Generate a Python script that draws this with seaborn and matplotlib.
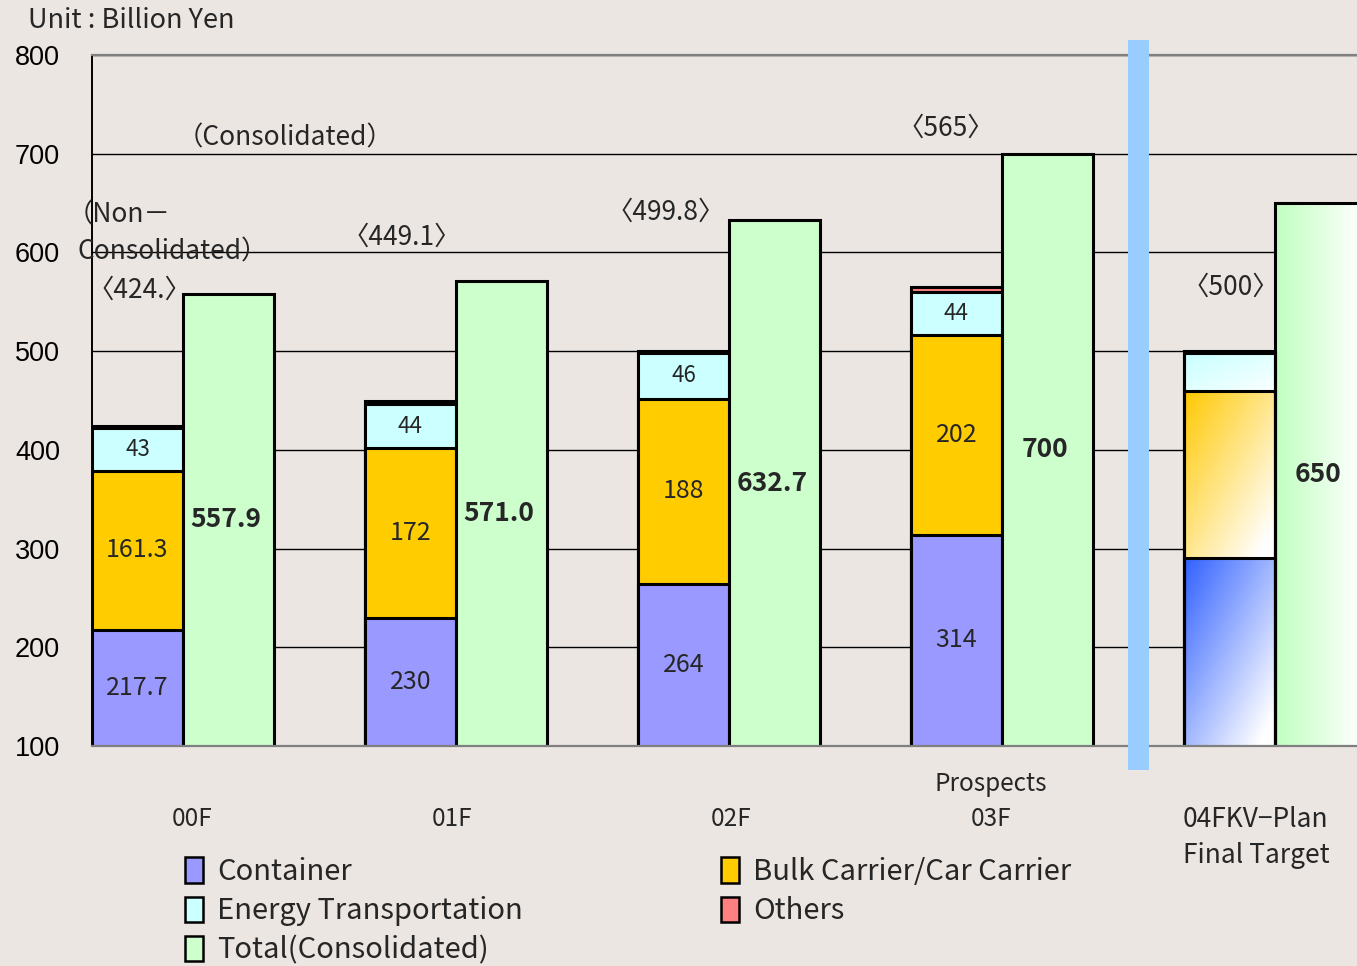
import numpy as np
import pandas as pd
import matplotlib
matplotlib.use("Agg")
import matplotlib.pyplot as plt
from matplotlib.patches import Rectangle, Patch
from matplotlib.colors import to_rgb
import seaborn as sns

# ---- data (Billion Yen) ----
years = ["00F", "01F", "02F", "03F", "04F"]
container = [217.7, 230, 264, 314, 290]
bulk = [161.3, 172, 188, 202, 170]
energy = [43, 44, 46, 44, 38]
others = [2.0, 3.1, 1.8, 5.0, 2.0]
total_consol = [557.9, 571.0, 632.7, 700, 650]

container_lbl = ["217.7", "230", "264", "314", ""]
bulk_lbl = ["161.3", "172", "188", "202", ""]
energy_lbl = ["43", "44", "46", "44", ""]
total_lbl = ["557.9", "571.0", "632.7", "700", "650"]
nonconsol_lbl = ["〈424.〉", "〈449.1〉", "〈499.8〉", "〈565〉", "〈500〉"]
xlabels = ["00F", "01F", "02F", "Prospects\n03F", "04FKV\u2212Plan\nFinal Target"]

c_container = "#9999ff"
c_bulk = "#ffcc00"
c_energy = "#ccffff"
c_others = "#ff8080"
c_total = "#ccffcc"
bg = "#ebe6e2"

sns.set_theme(style="white")
plt.rcParams['font.family'] = ['Noto Sans CJK JP', 'DejaVu Sans']

W, H = 1357, 966
fig = plt.figure(figsize=(W / 100, H / 100), dpi=100, facecolor=bg)
ax = fig.add_axes([92 / W, 1 - 746 / H, 1 - 92 / W, (746 - 55) / H])
ax.set_facecolor(bg)

ymin, ymax = 100, 800
grp = np.arange(len(years))
bw = 1 / 3
stack_x = grp - bw / 2
total_x = grp + bw / 2

cum_c = np.array(container)
cum_b = cum_c + np.array(bulk)
cum_e = cum_b + np.array(energy)
cum_o = cum_e + np.array(others)

df = pd.DataFrame({"sx": stack_x, "tx": total_x, "container": cum_c,
                   "bulk": cum_b, "energy": cum_e, "others": cum_o,
                   "total": total_consol})

last = {}
def draw(xcol, ycol, color, key):
    n0 = len(ax.patches)
    sns.barplot(data=df, x=xcol, y=ycol, native_scale=True, width=bw,
                color=color, saturation=1, edgecolor="black", linewidth=2.2,
                errorbar=None, ax=ax)
    new = ax.patches[n0:]
    last[key] = max(new, key=lambda p: p.get_x())

# stacked by overdrawing cumulative heights, outermost first
draw("sx", "others", c_others, "others")
draw("sx", "energy", c_energy, "energy")
draw("sx", "bulk", c_bulk, "bulk")
draw("sx", "container", c_container, "container")
draw("tx", "total", c_total, "total")

# gradient fills for the 04F target bars
def gradient(patch, c1, lo, hi, diagonal=True, k=1.2):
    n = 200
    X, Y = np.meshgrid(np.linspace(0, 1, n), np.linspace(0, 1, n))
    t = (X + Y) / 2 if diagonal else X
    t = np.clip(t * k, 0, 1)
    c1 = np.array(to_rgb(c1))
    img = c1[None, None, :] * (1 - t[..., None]) + np.ones(3) * t[..., None]
    x0 = patch.get_x()
    w = patch.get_width()
    im = ax.imshow(img, extent=[x0, x0 + w, lo, hi], origin="upper",
                   aspect="auto", zorder=0.9, interpolation="bilinear")
    im.set_clip_path(patch)
    patch.set_facecolor("none")

gradient(last["others"], "#ff8080", cum_e[-1], cum_o[-1])
gradient(last["energy"], "#c8ffff", cum_b[-1], cum_e[-1], k=0.9)
gradient(last["bulk"], "#ffc800", cum_c[-1], cum_b[-1], k=1.1)
gradient(last["container"], "#3060ff", ymin, cum_c[-1], k=1.1)
gradient(last["total"], "#c0ffc0", ymin, total_consol[-1], diagonal=False, k=1.05)

# segment value labels
def mid(lo, hi):
    return (max(lo, ymin) + hi) / 2

for i in range(len(years)):
    ax.text(stack_x[i], mid(0, cum_c[i]), container_lbl[i], ha="center", va="center", fontsize=18)
    ax.text(stack_x[i], mid(cum_c[i], cum_b[i]), bulk_lbl[i], ha="center", va="center", fontsize=18)
    ax.text(stack_x[i], mid(cum_b[i], cum_e[i]), energy_lbl[i], ha="center", va="center", fontsize=16)
    ax.text(total_x[i] - 0.01, mid(0, total_consol[i]), total_lbl[i], ha="center", va="center",
            fontsize=19, fontweight="bold")

# non-consolidated totals
nc_pos = [(-0.161, 562), (0.802, 615), (1.769, 641), (2.795, 726), (3.839, 565)]
for (x, y), s in zip(nc_pos, nonconsol_lbl):
    ax.text(x, y, s, ha="center", va="center", fontsize=19)

ax.text(0.374, 716, "（Consolidated）", ha="center", va="center", fontsize=19)
ax.text(-0.425, 638, "（Non\uff0d", ha="left", va="center", fontsize=19)
ax.text(-0.385, 600, "Consolidated）", ha="left", va="center", fontsize=19)

# axes styling
ax.set_xlim(stack_x[0] - bw / 2, stack_x[0] - bw / 2 + (W - 92) / 273)
ax.set_ylim(ymin, ymax)
ax.set_yticks(np.arange(ymin, ymax + 1, 100))
ax.set_yticklabels([str(v) for v in range(ymin, ymax + 1, 100)],
                   fontsize=19.5, family=["Liberation Sans", "DejaVu Sans"])
ax.tick_params(axis="y", length=0, pad=23, colors="black")
ax.set_xticks([])
ax.set_xlabel("")
ax.set_ylabel("")
ax.yaxis.grid(True, color="black", linewidth=1)
ax.set_axisbelow(True)
for s in ["top", "bottom"]:
    ax.spines[s].set_color("#808080")
    ax.spines[s].set_linewidth(1.6)
ax.spines["left"].set_color("black")
ax.spines["left"].set_linewidth(1.4)
ax.spines["right"].set_visible(False)

# category labels
xt = ax.get_xaxis_transform()
label_shift = [0.035, -0.015, 0.007, -0.04, -0.07]
for i, s in enumerate(xlabels):
    yb = -0.178 if i == len(xlabels) - 1 else -0.124
    ax.text(grp[i] + label_shift[i], yb, s, transform=xt, ha="center", va="bottom",
            fontsize=17.5 if i < 4 else 19, linespacing=1.45)

# divider between actuals and plan
band = Rectangle((3.5 - 0.037, -0.035), 0.074, 1.057, transform=xt,
                 facecolor="#99ccff", edgecolor="none", clip_on=False, zorder=3)
ax.add_patch(band)

fig.text(28 / W, 1 - 21 / H, "Unit : Billion Yen", ha="left", va="center", fontsize=19.5)

# legends
def handle(c):
    return Patch(facecolor=c, edgecolor="black", linewidth=1.8)

leg_kw = dict(frameon=False, fontsize=21, handlelength=0.6, handleheight=0.95,
              handletextpad=0.5, labelspacing=0.32, borderpad=0, borderaxespad=0)
leg1 = fig.legend([handle(c_container), handle(c_energy), handle(c_total)],
                  ["Container", "Energy Transportation", "Total(Consolidated)"],
                  loc="upper left", bbox_to_anchor=(185 / W, 1 - 857 / H), **leg_kw)
leg2 = fig.legend([handle(c_bulk), handle(c_others)],
                  ["Bulk Carrier/Car Carrier", "Others"],
                  loc="upper left", bbox_to_anchor=(721 / W, 1 - 857 / H), **leg_kw)

plt.savefig("out.png", dpi=100, facecolor=bg)
